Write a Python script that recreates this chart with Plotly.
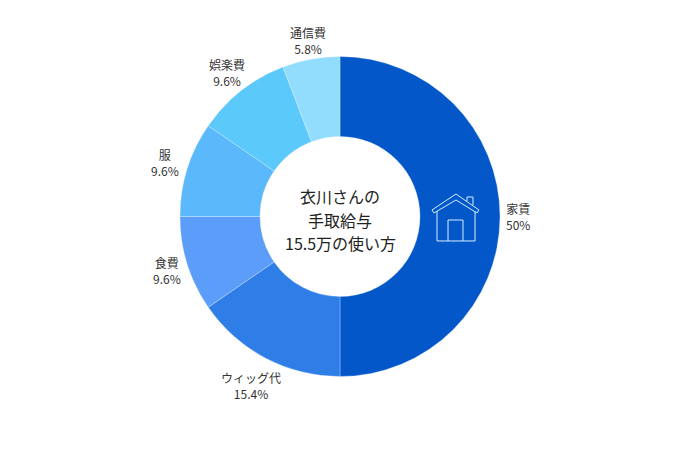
import math
import plotly.graph_objects as go

W, H = 680, 453
# the page body adds 8px around the plot
OFF = 8

labels = ["家賃", "ウィッグ代", "食費", "服", "娯楽費", "通信費"]
values = [50, 15.4, 9.6, 9.6, 9.6, 5.8]
pct_text = ["50%", "15.4%", "9.6%", "9.6%", "9.6%", "5.8%"]
colors = ["#0357C8", "#2F7EE8", "#5B9DF9", "#5BB8FB", "#5CC9FB", "#92DDFD"]
label_radius = [178, 191, 181, 183, 183, 179]
center_lines = ["衣川さんの", "手取給与", "15.5万の使い方"]
font_name = "Noto Sans CJK JP"

CX, CY, R = 340, 216.5, 160


def px(x):
    return (x - OFF) / W


def py(y):
    return 1 - (y - OFF) / H


fig = go.Figure()
fig.add_trace(go.Pie(
    labels=labels,
    values=values,
    hole=0.5,
    sort=False,
    direction="clockwise",
    rotation=0,
    marker=dict(colors=colors, line=dict(width=0.3, color="#EAF6FF")),
    textinfo="none",
    hoverinfo="label+percent",
    showlegend=False,
    domain=dict(x=[px(CX - R), px(CX + R)], y=[py(CY + R), py(CY - R)]),
))

# slice labels sit on the ray through the middle of each slice
total = sum(values)
running = 0
for lab, val, pct, rad in zip(labels, values, pct_text, label_radius):
    mid = (running + val / 2) / total * 2 * math.pi
    running += val
    fig.add_annotation(text=f"{lab}<br>{pct}", xref="paper", yref="paper",
                       x=px(CX + rad * math.sin(mid)), y=py(CY - rad * math.cos(mid)),
                       xanchor="center", yanchor="middle",
                       showarrow=False, align="center",
                       font=dict(size=12, color="#333333", family=font_name))


def path(points, close=False):
    s = "M " + " L ".join(f"{px(x):.4f} {py(y):.4f}" for x, y in points)
    return s + (" Z" if close else "")


# house icon
house = [
    [(432, 210), (456, 194), (479, 210), (477, 213), (456, 200), (434, 213)],
    [(467, 201), (467, 197), (473, 197), (473, 205)],
    [(437, 211), (437, 241), (475, 241), (475, 211)],
    [(448, 241), (448, 220), (463, 220), (463, 241)],
]
closed = [True, False, False, False]
for pts, c in zip(house, closed):
    fig.add_shape(type="path", xref="paper", yref="paper", path=path(pts, c),
                  line=dict(color="#D6EEFF", width=1))

for line, y in zip(center_lines, [196, 219.5, 243]):
    fig.add_annotation(text=line, x=px(CX), y=py(y), xref="paper", yref="paper",
                       xanchor="center", yanchor="middle",
                       showarrow=False, align="center",
                       font=dict(size=16, color="#222222", family=font_name))

fig.update_layout(width=W, height=H, margin=dict(l=0, r=0, t=0, b=0),
                  paper_bgcolor="white", plot_bgcolor="white",
                  font=dict(family=font_name))

fig.write_html("out.html")
